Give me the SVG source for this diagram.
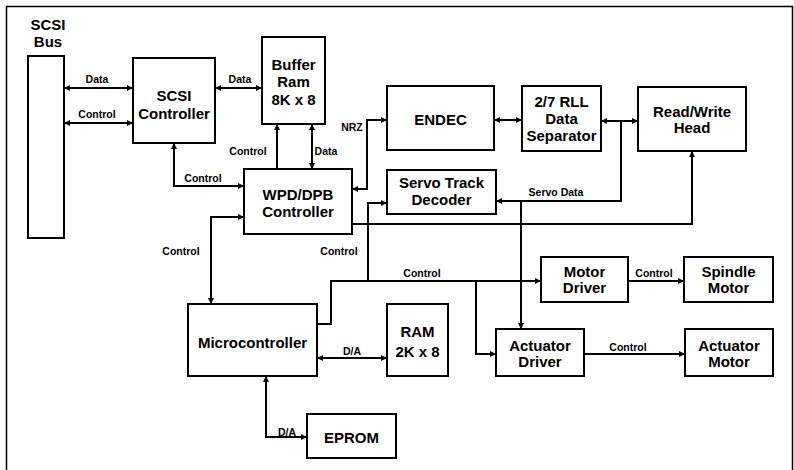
<svg xmlns="http://www.w3.org/2000/svg" width="794" height="470" viewBox="0 0 794 470">
<style>
.box{fill:#fff;stroke:#000;stroke-width:2}
.t{font-family:"Liberation Sans",Arial,sans-serif;font-weight:bold;font-size:15px;text-anchor:middle;fill:#000}
.l{font-family:"Liberation Sans",Arial,sans-serif;font-weight:bold;font-size:10.5px;text-anchor:middle;fill:#000}
.c{fill:none;stroke:#000;stroke-width:2}
.b{marker-start:url(#a);marker-end:url(#a)}
.e{marker-end:url(#a)}
</style>
<defs>
<marker id="a" viewBox="0 0 6 6" refX="6" refY="3" markerWidth="6" markerHeight="6" markerUnits="userSpaceOnUse" orient="auto-start-reverse">
<path d="M0,0 L6,3 L0,6 z" fill="#000"/>
</marker>
</defs>
<rect x="6.5" y="6.5" width="786" height="480" fill="#fff" stroke="#000" stroke-width="1.5"/>

<g id="scsi-bus">
<rect class="box" x="28" y="56" width="36" height="182"/>
<text class="t" x="48" y="30">SCSI</text>
<text class="t" x="48" y="47">Bus</text>
</g>
<g id="scsi-controller">
<rect class="box" x="133" y="58" width="82" height="85"/>
<text class="t" x="174" y="101">SCSI</text>
<text class="t" x="174" y="119">Controller</text>
</g>
<g id="buffer-ram">
<rect class="box" x="262" y="37" width="63" height="87"/>
<text class="t" x="293.5" y="70">Buffer</text>
<text class="t" x="293.5" y="87">Ram</text>
<text class="t" x="293.5" y="105">8K x 8</text>
</g>
<g id="endec">
<rect class="box" x="387" y="86" width="107" height="64"/>
<text class="t" x="440.5" y="125">ENDEC</text>
</g>
<g id="data-separator">
<rect class="box" x="522" y="86" width="79" height="65"/>
<text class="t" x="561.5" y="107">2/7 RLL</text>
<text class="t" x="561.5" y="124">Data</text>
<text class="t" x="561.5" y="141">Separator</text>
</g>
<g id="rw-head">
<rect class="box" x="638" y="87" width="108" height="64"/>
<text class="t" x="692" y="117">Read/Write</text>
<text class="t" x="692" y="133">Head</text>
</g>
<g id="wpd-dpb">
<rect class="box" x="244" y="169" width="108" height="65"/>
<text class="t" x="298" y="200">WPD/DPB</text>
<text class="t" x="298" y="217">Controller</text>
</g>
<g id="servo-decoder">
<rect class="box" x="387" y="170" width="109" height="44"/>
<text class="t" x="441.5" y="188">Servo Track</text>
<text class="t" x="441.5" y="205">Decoder</text>
</g>
<g id="microcontroller">
<rect class="box" x="188" y="304" width="129" height="72"/>
<text class="t" x="252.5" y="348">Microcontroller</text>
</g>
<g id="ram">
<rect class="box" x="387" y="304" width="61" height="72"/>
<text class="t" x="417.5" y="337">RAM</text>
<text class="t" x="417.5" y="357">2K x 8</text>
</g>
<g id="eprom">
<rect class="box" x="307" y="414" width="89" height="44"/>
<text class="t" x="351.5" y="443">EPROM</text>
</g>
<g id="motor-driver">
<rect class="box" x="541" y="257" width="87" height="45"/>
<text class="t" x="584.5" y="277">Motor</text>
<text class="t" x="584.5" y="293">Driver</text>
</g>
<g id="spindle-motor">
<rect class="box" x="684" y="257" width="89" height="45"/>
<text class="t" x="728.5" y="277">Spindle</text>
<text class="t" x="728.5" y="293">Motor</text>
</g>
<g id="actuator-driver">
<rect class="box" x="496" y="329" width="88" height="47"/>
<text class="t" x="540" y="351">Actuator</text>
<text class="t" x="540" y="367">Driver</text>
</g>
<g id="actuator-motor">
<rect class="box" x="685" y="329" width="88" height="47"/>
<text class="t" x="729" y="351">Actuator</text>
<text class="t" x="729" y="367">Motor</text>
</g>

<g id="connectors">
<path class="c b" d="M64,88 H133"/>
<path class="c b" d="M64,123 H133"/>
<path class="c b" d="M215,88 H262"/>
<path class="c b" d="M174,143 V186 H244"/>
<path class="c e" d="M277,169 V124"/>
<path class="c b" d="M312,124 V169"/>
<path class="c b" d="M244,217 H211 V304"/>
<path class="c b" d="M352,189 H367 V120 H387"/>
<path class="c b" d="M494,120 H522"/>
<path class="c b" d="M601,121 H638"/>
<path class="c e" d="M621,121 V201 H496"/>
<path class="c e" d="M521,201 V329"/>
<path class="c e" d="M352,224 H692 V151"/>
<path class="c e" d="M317,324 H331 V281 H541"/>
<path class="c e" d="M368,281 V203 H387"/>
<path class="c e" d="M476,281 V354 H496"/>
<path class="c e" d="M628,281 H684"/>
<path class="c e" d="M584,354 H685"/>
<path class="c b" d="M317,358 H387"/>
<path class="c b" d="M266,376 V437 H307"/>
<text class="l" x="97" y="83">Data</text>
<text class="l" x="97" y="118">Control</text>
<text class="l" x="240" y="83">Data</text>
<text class="l" x="248" y="155">Control</text>
<text class="l" x="326" y="155">Data</text>
<text class="l" x="203" y="182">Control</text>
<text class="l" x="352" y="131">NRZ</text>
<text class="l" x="181" y="255">Control</text>
<text class="l" x="339" y="255">Control</text>
<text class="l" x="422" y="277">Control</text>
<text class="l" x="556" y="196">Servo Data</text>
<text class="l" x="654" y="277">Control</text>
<text class="l" x="628" y="351">Control</text>
<text class="l" x="352" y="355">D/A</text>
<text class="l" x="287" y="436">D/A</text>
</g>
</svg>
